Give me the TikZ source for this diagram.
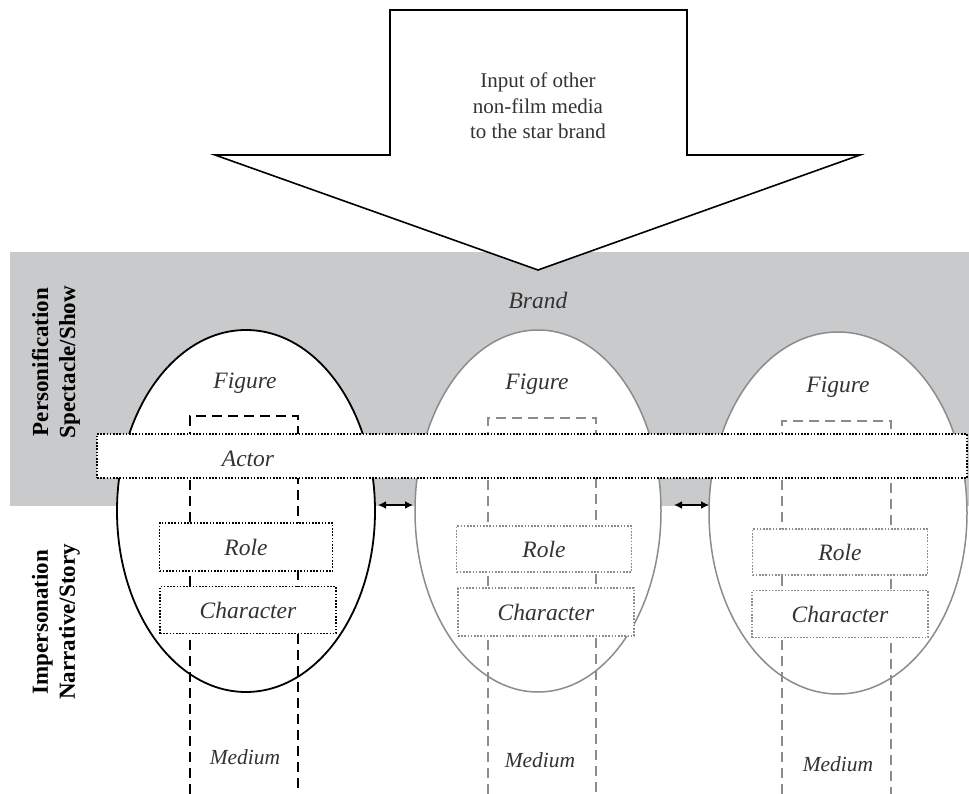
\documentclass[tikz,border=0pt]{standalone}
\usepackage{fontspec}
\setmainfont{Liberation Serif}
\usetikzlibrary{shapes.geometric,arrows.meta}
\definecolor{bandgray}{HTML}{C9CACC}
\definecolor{lgray}{HTML}{8C8C8C}
\definecolor{txt}{HTML}{333333}
\tikzset{
  lbl/.style={font=\fontsize{23.5}{27}\selectfont\itshape, text=txt, inner sep=0pt},
  medlbl/.style={font=\fontsize{21.5}{25}\selectfont\itshape, text=txt, inner sep=0pt},
  sidelbl/.style={font=\fontsize{23}{27}\selectfont\bfseries, rotate=90, align=center, inner sep=0pt},
  egg/.style={ellipse, draw, fill=white, minimum width=#1, minimum height=362pt, inner sep=0pt},
  dotbox/.style={draw, fill=white, line width=1.9pt, dash pattern=on 1.6pt off 1.6pt},
  dashcol/.style={line width=1.6pt, dash pattern=on 10pt off 6pt},
  dbl/.style={{Latex[length=8pt,width=8pt]}-{Latex[length=8pt,width=8pt]}, line width=2pt}
}
\begin{document}
\begin{tikzpicture}[x=1pt,y=-1pt]
\useasboundingbox (0,0) rectangle (969,794);
% gray band
\fill[bandgray] (10,252) rectangle (969,506);
% big arrow
\draw[line width=1.6pt, fill=white] (390,10) -- (687,10) -- (687,155) -- (860,155) -- (538,270) -- (215,155) -- (390,155) -- cycle;
\node[font=\fontsize{21}{25.5}\selectfont, align=center, text=txt] (input) at (538,106) {Input of other\\non-film media\\to the star brand};
\node[lbl] (brand) at (538,300) {Brand};
% side labels
\node[sidelbl] (pers) at (56,362) {Personification\\Spectacle/Show};
\node[sidelbl] (imp) at (56,622) {Impersonation\\Narrative/Story};
% ellipses
\node[egg=258pt, line width=1.8pt] (e1) at (246,511) {};
\node[egg=246pt, draw=lgray, line width=1.5pt] (e2) at (538,511) {};
\node[egg=258pt, draw=lgray, line width=1.5pt] (e3) at (838,513) {};
% dashed medium columns
\draw[dashcol] (190,794) -- (190,416) -- (298,416) -- (298,794);
\draw[dashcol, lgray] (488,794) -- (488,418) -- (596,418) -- (596,794);
\draw[dashcol, lgray] (782,794) -- (782,421) -- (891,421) -- (891,794);
% actor band
\node[dotbox, minimum width=870pt, minimum height=44pt, inner sep=0pt] (actorband) at (532,456) {};
\node[lbl] (actor) at (248,459) {Actor};
% figure labels
\node[lbl] (f1) at (245,383) {Figure};
\node[lbl] (f2) at (537,384) {Figure};
\node[lbl] (f3) at (838,387) {Figure};
% role and character boxes
\node[dotbox, minimum width=173pt, minimum height=48pt, lbl, text=txt] (r1) at (246,547) {Role};
\node[dotbox, minimum width=176pt, minimum height=47pt, lbl, text=txt] (c1) at (248,610) {Character};
\node[dotbox, draw=lgray, minimum width=175pt, minimum height=46pt, lbl, text=txt] (r2) at (544,549) {Role};
\node[dotbox, draw=lgray, minimum width=176pt, minimum height=48pt, lbl, text=txt] (c2) at (546,612) {Character};
\node[dotbox, draw=lgray, minimum width=175pt, minimum height=46pt, lbl, text=txt] (r3) at (840,552) {Role};
\node[dotbox, draw=lgray, minimum width=176pt, minimum height=47pt, lbl, text=txt] (c3) at (840,614) {Character};
% medium labels
\node[medlbl] (m1) at (245,757) {Medium};
\node[medlbl] (m2) at (540,760) {Medium};
\node[medlbl] (m3) at (838,764) {Medium};
% double arrows
\coordinate (a1l) at (378,505); \coordinate (a1r) at (413,505);
\coordinate (a2l) at (674,505); \coordinate (a2r) at (709,505);
\draw[dbl] (a1l) -- (a1r);
\draw[dbl] (a2l) -- (a2r);
\end{tikzpicture}
\end{document}
